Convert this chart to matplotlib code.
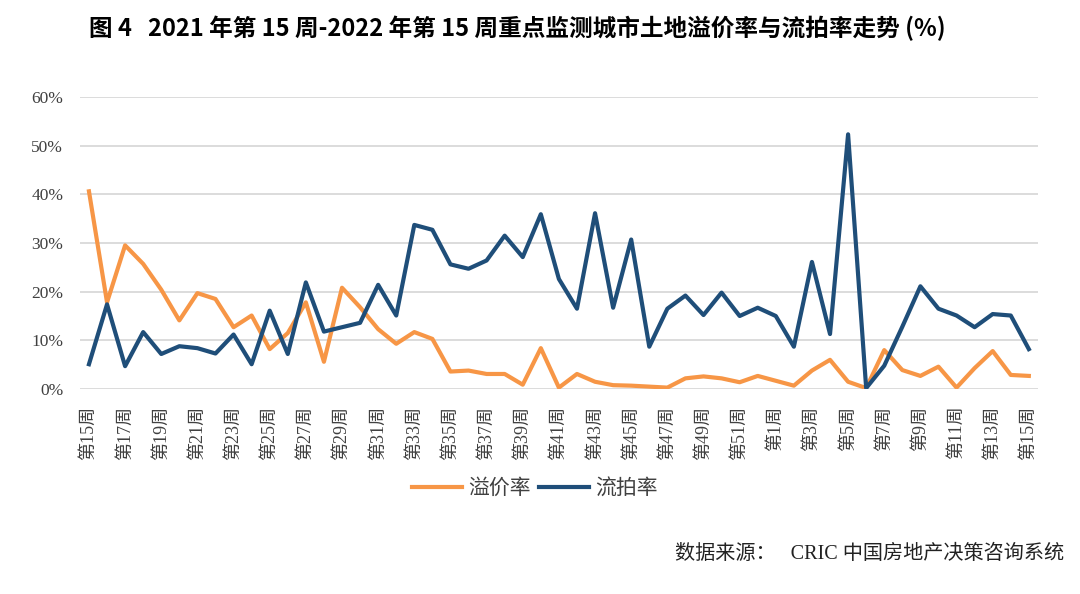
import matplotlib
matplotlib.use("Agg")
from matplotlib import pyplot as plt

# data, weekly values in %
weeks = list(range(15, 53)) + list(range(1, 16))
premium_rate = [40.6, 17.8, 29.5, 25.7, 20.4, 14.1, 19.7, 18.5, 12.7, 15.1,
                8.2, 11.5, 17.8, 5.6, 20.8, 16.8, 12.3, 9.3, 11.7, 10.3,
                3.6, 3.8, 3.1, 3.1, 0.9, 8.4, 0.3, 3.1, 1.5, 0.8,
                0.7, 0.5, 0.3, 2.2, 2.6, 2.2, 1.4, 2.7, 1.7, 0.7,
                3.8, 6.0, 1.5, 0.2, 8.0, 3.9, 2.7, 4.6, 0.3, 4.3,
                7.8, 2.9, 2.7]
failed_rate = [5.1, 17.4, 4.7, 11.7, 7.2, 8.8, 8.4, 7.3, 11.2, 5.1,
               16.1, 7.2, 21.9, 11.8, 12.7, 13.6, 21.4, 15.1, 33.7, 32.7,
               25.6, 24.7, 26.4, 31.5, 27.1, 35.9, 22.6, 16.5, 36.1, 16.7,
               30.7, 8.7, 16.5, 19.2, 15.2, 19.8, 15.0, 16.7, 15.0, 8.7,
               26.1, 11.3, 52.3, 0.2, 4.8, 12.8, 21.1, 16.5, 15.1, 12.7,
               15.4, 15.1, 8.2]
week_labels = ["第%d周" % w for w in weeks]
yticks = [0, 10, 20, 30, 40, 50, 60]

serif_cjk = ["Liberation Serif", "Noto Sans CJK SC"]
sans_cjk = ["Noto Sans CJK SC", "DejaVu Sans"]
plt.rcParams['font.family'] = serif_cjk

fig = plt.figure(figsize=(10.8, 5.94), dpi=100)
ax = fig.add_axes([0.074, 0.345, 0.887, 0.492])

x = list(range(len(weeks)))
ax.plot(x, premium_rate, color="#F79646", lw=3, label="溢价率")
ax.plot(x, failed_rate, color="#1F4E79", lw=3, label="流拍率")

ax.set_xlim(-0.5, len(weeks) - 0.5)
ax.set_ylim(0, 60)
ax.set_yticks(yticks)
ax.set_yticklabels(["%d%%" % v for v in yticks], fontsize=12.5, color="#404040")
ax.set_xticks(x[::2])
ax.set_xticklabels(week_labels[::2], rotation=90, fontsize=13, color="#404040")
ax.tick_params(length=0, pad=12)
ax.tick_params(axis="y", pad=12)
ax.grid(axis="y", color="#d9d9d9", lw=1.3)
ax.set_axisbelow(True)
for s in ax.spines.values():
    s.set_visible(False)

fig.legend(loc="center", bbox_to_anchor=(0.495, 0.178), ncol=2, frameon=False,
           prop={"family": sans_cjk, "size": 15}, handlelength=2.4,
           handletextpad=0.3, columnspacing=0.4, labelcolor="#404040")

fig.text(0.082, 0.953, "图 4   2021 年第 15 周-2022 年第 15 周重点监测城市土地溢价率与流拍率走势 (%)",
         family=sans_cjk, fontsize=17, fontweight="bold", ha="left", va="center")
fig.text(0.985, 0.066, "数据来源：   CRIC 中国房地产决策咨询系统",
         family=serif_cjk, fontsize=14.5, color="#222222", ha="right", va="center")

fig.savefig("out.png", dpi=100)
